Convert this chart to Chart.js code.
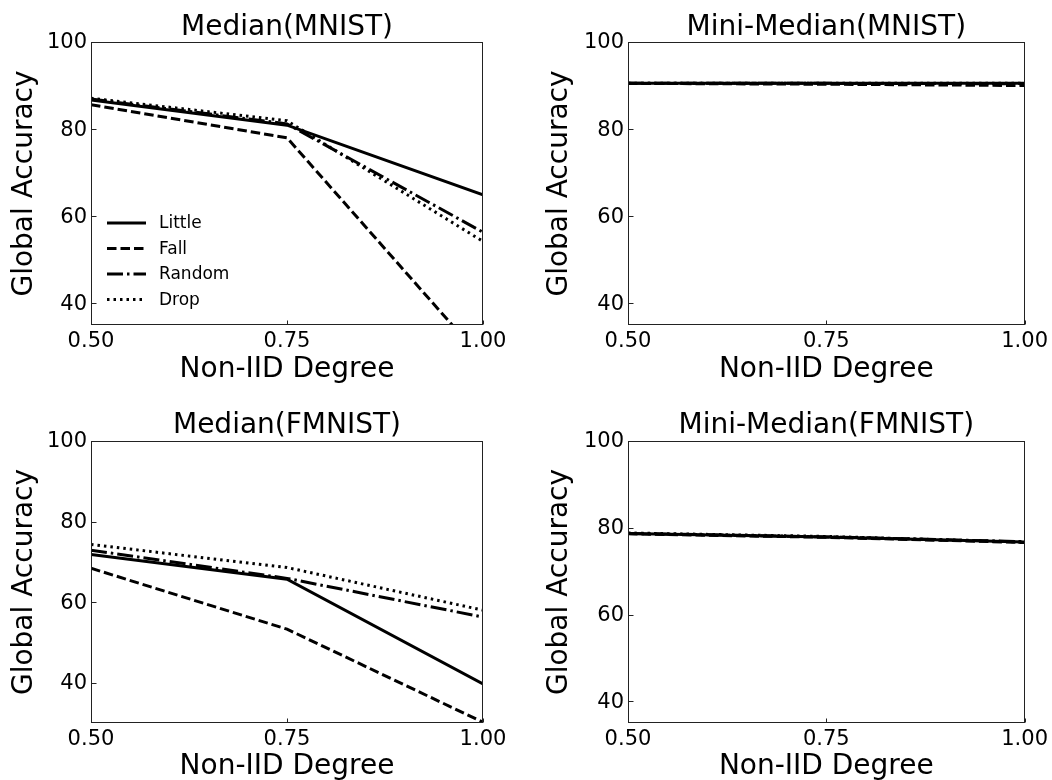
<!DOCTYPE html>
<html>
<head>
<meta charset="utf-8">
<script src="https://cdn.jsdelivr.net/npm/chart.js@4.4.1/dist/chart.umd.min.js"></script>
<style>
  html, body { margin: 0; padding: 0; background: #fff; overflow: hidden; }
  #grid { position: relative; width: 1052px; height: 780px; }
  canvas { position: absolute; }
</style>
</head>
<body>
<div id="grid">
  <canvas id="medianMnist" width="526" height="390" style="left:0;top:0"></canvas>
  <canvas id="miniMedianMnist" width="526" height="390" style="left:526px;top:0"></canvas>
  <canvas id="medianFmnist" width="526" height="400" style="left:0;top:390px"></canvas>
  <canvas id="miniMedianFmnist" width="526" height="400" style="left:526px;top:390px"></canvas>
</div>
<script>
// non-IID degree on the x axis
const degrees = [0.5, 0.75, 1.0];
const xTicks = [0.5, 0.75, 1.0];
const yTicks = [40, 60, 80, 100];
const attacks = ['Little', 'Fall', 'Random', 'Drop'];

// Median aggregation, MNIST
const medianMnistLittle = [86.7, 80.9, 64.9];
const medianMnistFall = [85.6, 78.0, 27.0];
const medianMnistRandom = [86.9, 81.2, 56.3];
const medianMnistDrop = [87.1, 81.9, 54.2];

// Mini-Median aggregation, MNIST
const miniMnistLittle = [90.5, 90.5, 90.5];
const miniMnistFall = [90.5, 90.3, 90.0];
const miniMnistRandom = [90.5, 90.5, 90.4];
const miniMnistDrop = [90.5, 90.5, 90.5];

// Median aggregation, FMNIST
const medianFmnistLittle = [71.8, 65.7, 39.7];
const medianFmnistFall = [68.4, 53.3, 30.2];
const medianFmnistRandom = [72.9, 65.9, 56.3];
const medianFmnistDrop = [74.3, 68.6, 58.0];

// Mini-Median aggregation, FMNIST
const miniFmnistLittle = [78.7, 77.9, 76.7];
const miniFmnistFall = [78.6, 77.8, 76.6];
const miniFmnistRandom = [78.7, 77.9, 76.8];
const miniFmnistDrop = [78.8, 78.0, 76.7];

// matplotlib-like dash patterns
const lineStyles = {
  Little: [],
  Fall: [9.5, 4],
  Random: [16, 4, 2.5, 4],
  Drop: [2.5, 4]
};

Chart.defaults.font.family = '"DejaVu Sans", sans-serif';
Chart.defaults.color = '#000';

// box around the plot area + inward tick marks
const framePlugin = {
  id: 'frame',
  afterDraw(chart) {
    const { ctx, chartArea: a, scales } = chart;
    const l = Math.round(a.left) + 0.5, r = Math.round(a.right) - 0.5;
    const t = Math.round(a.top) + 0.5, b = Math.round(a.bottom) - 0.5;
    ctx.save();
    ctx.strokeStyle = '#222';
    ctx.lineWidth = 1;
    ctx.strokeRect(l, t, r - l, b - t);
    ctx.beginPath();
    xTicks.forEach(v => {
      const px = Math.round(scales.x.getPixelForValue(v)) + 0.5;
      ctx.moveTo(px, b);
      ctx.lineTo(px, b - 4);
    });
    yTicks.forEach(v => {
      const py = Math.round(scales.y.getPixelForValue(v)) + 0.5;
      ctx.moveTo(l, py);
      ctx.lineTo(l + 5, py);
    });
    ctx.stroke();
    ctx.restore();
  }
};

// legend drawn inside the plot area, lower left
const attackLegend = {
  id: 'attackLegend',
  afterDatasetsDraw(chart, args, opts) {
    if (!opts.display) return;
    const { ctx, chartArea: a } = chart;
    ctx.save();
    ctx.font = '17px "DejaVu Sans"';
    ctx.textBaseline = 'middle';
    ctx.fillStyle = '#000';
    chart.data.datasets.forEach((ds, i) => {
      const x = a.left + opts.left;
      const y = a.top + opts.top + i * opts.rowGap;
      ctx.strokeStyle = ds.borderColor;
      ctx.lineWidth = ds.borderWidth;
      ctx.setLineDash(ds.borderDash);
      ctx.beginPath();
      ctx.moveTo(x, y);
      ctx.lineTo(x + opts.handle, y);
      ctx.stroke();
      ctx.setLineDash([]);
      ctx.fillText(ds.label, x + opts.handle + opts.gap, y + 1);
    });
    ctx.restore();
  }
};

const panels = [
  {
    id: 'medianMnist', title: 'Median(MNIST)', yMin: 35, legend: true,
    series: [medianMnistLittle, medianMnistFall, medianMnistRandom, medianMnistDrop],
    area: { left: 91, right: 483, top: 42, bottom: 325 }, titleTop: 14, xTitlePad: 3, yTitlePad: 8
  },
  {
    id: 'miniMedianMnist', title: 'Mini-Median(MNIST)', yMin: 35, legend: false,
    series: [miniMnistLittle, miniMnistFall, miniMnistRandom, miniMnistDrop],
    area: { left: 102, right: 499, top: 42, bottom: 325 }, titleTop: 14, xTitlePad: 3, yTitlePad: 17
  },
  {
    id: 'medianFmnist', title: 'Median(FMNIST)', yMin: 30, legend: false,
    series: [medianFmnistLittle, medianFmnistFall, medianFmnistRandom, medianFmnistDrop],
    area: { left: 91, right: 483, top: 51, bottom: 333 }, titleTop: 21.5, xTitlePad: 6, yTitlePad: 8
  },
  {
    id: 'miniMedianFmnist', title: 'Mini-Median(FMNIST)', yMin: 35, legend: false,
    series: [miniFmnistLittle, miniFmnistFall, miniFmnistRandom, miniFmnistDrop],
    area: { left: 102, right: 499, top: 51, bottom: 333 }, titleTop: 21.5, xTitlePad: 6, yTitlePad: 17
  }
];

function makeChart(p) {
  const canvas = document.getElementById(p.id);
  const W = canvas.width, H = canvas.height;
  return new Chart(canvas, {
    type: 'line',
    data: {
      datasets: attacks.map((name, i) => ({
        label: name,
        data: degrees.map((d, j) => ({ x: d, y: p.series[i][j] })),
        borderColor: '#000',
        borderWidth: 3,
        borderDash: lineStyles[name],
        pointRadius: 0,
        tension: 0,
        fill: false,
        order: attacks.length - i
      }))
    },
    options: {
      responsive: false,
      animation: false,
      events: [],
      layout: { padding: { left: 0, top: 0, right: W - p.area.right, bottom: 0 } },
      plugins: {
        legend: { display: false },
        tooltip: { enabled: false },
        title: {
          display: true,
          text: p.title,
          fullSize: false,
          color: '#000',
          font: { size: 28, weight: 'normal', lineHeight: 1 },
          padding: { top: p.titleTop, bottom: p.area.top - 28 - p.titleTop }
        },
        attackLegend: { display: p.legend, left: 16, top: 181, rowGap: 25.5, handle: 39, gap: 13 }
      },
      scales: {
        x: {
          type: 'linear',
          min: 0.5,
          max: 1.0,
          grid: { display: false, drawTicks: false },
          border: { display: false },
          afterBuildTicks: s => { s.ticks = xTicks.map(v => ({ value: v })); },
          afterFit: s => { s.height = H - p.area.bottom; },
          ticks: { font: { size: 21 }, color: '#000', padding: 4, maxRotation: 0, callback: v => v.toFixed(2) },
          title: { display: true, text: 'Non-IID Degree', color: '#000', font: { size: 28 }, padding: { top: 0, bottom: p.xTitlePad } }
        },
        y: {
          type: 'linear',
          min: p.yMin,
          max: 100,
          grid: { display: false, drawTicks: false },
          border: { display: false },
          afterBuildTicks: s => { s.ticks = yTicks.map(v => ({ value: v })); },
          afterFit: s => { s.width = p.area.left; },
          ticks: { font: { size: 21 }, color: '#000', padding: 4, labelOffset: 1, callback: v => v },
          title: { display: true, text: 'Global Accuracy', color: '#000', font: { size: 28 }, padding: { top: p.yTitlePad, bottom: 0 } }
        }
      }
    },
    plugins: [framePlugin, attackLegend]
  });
}

panels.forEach(makeChart);
</script>
</body>
</html>
